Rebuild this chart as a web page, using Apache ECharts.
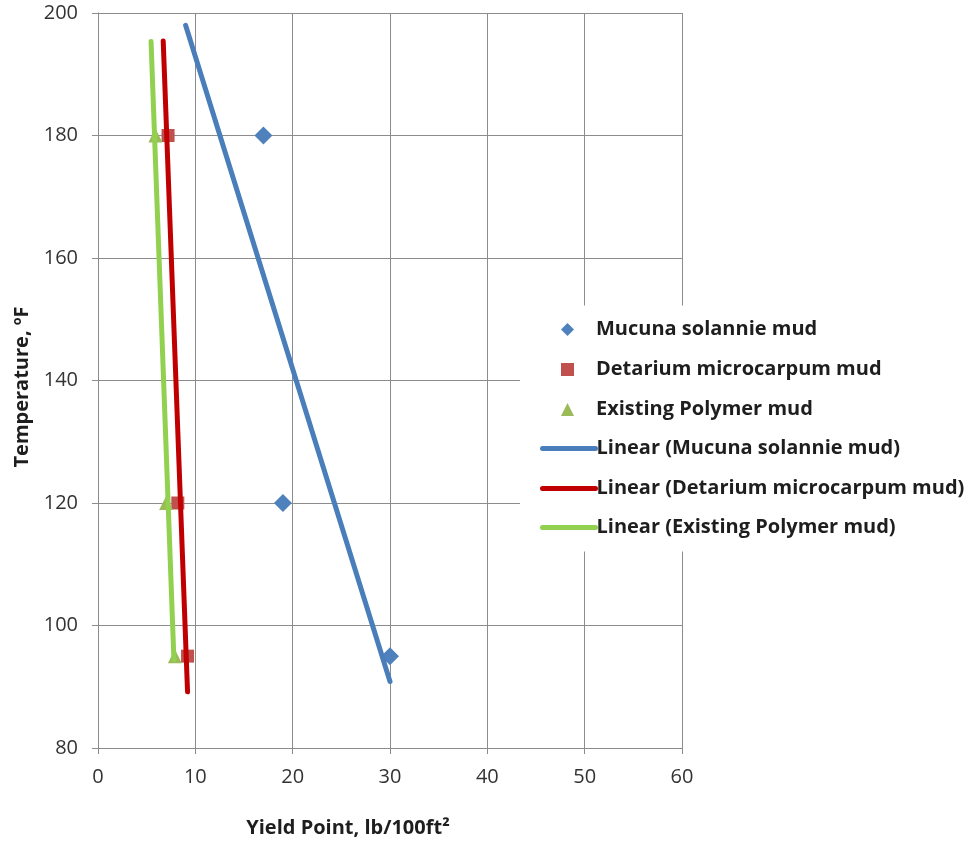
<!DOCTYPE html>
<html>
<head>
<meta charset="utf-8">
<script src="https://cdn.jsdelivr.net/npm/echarts@6/dist/echarts.min.js"></script>
<style>html,body{margin:0;padding:0;background:#fff}#c{width:968px;height:843px}</style>
</head>
<body>
<div id="c"></div>
<script>
// Data
const temperature = [180, 120, 95];
const mucunaYP = [17, 19, 30];
const detariumYP = [7.2, 8.2, 9.2];
const polymerYP = [5.9, 7.0, 7.9];
const seriesNames = ['Mucuna solannie mud', 'Detarium microcarpum mud', 'Existing Polymer mud'];
// x extent of each trendline (Excel forecast range)
const mucunaTrendRange = [9, 30];
const detariumTrendRange = [6.7, 9.2];
const polymerTrendRange = [5.45, 7.8];
const xTicks = [0, 10, 20, 30, 40, 50, 60];
const yTicks = [80, 100, 120, 140, 160, 180, 200];

function pairs(xs, ys) { return xs.map((x, i) => [x, ys[i]]); }
function linearTrend(xs, ys, range) {
  const n = xs.length;
  const mx = xs.reduce((a, b) => a + b, 0) / n;
  const my = ys.reduce((a, b) => a + b, 0) / n;
  let sxx = 0, sxy = 0;
  for (let i = 0; i < n; i++) { sxx += (xs[i] - mx) ** 2; sxy += (xs[i] - mx) * (ys[i] - my); }
  const b = sxy / sxx, a = my - b * mx;
  return range.map(x => [x, a + b * x]);
}

const FONT = '"Open Sans", "Liberation Sans", sans-serif';
const gridColor = '#8c8c8c';
const colors = { mucuna: '#4F81BD', detarium: '#C0504D', polymer: '#9BBB59',
                 mucunaLine: '#4A7EBB', detariumLine: '#C00000', polymerLine: '#92D050' };
const lineNames = seriesNames.map(n => 'Linear (' + n + ')');

// legend rows (one legend per row so each icon size can differ)
const rowCenters = [326, 366, 406, 445, 485, 524];
const legends = [];
const allNames = seriesNames.concat(lineNames);
allNames.forEach((name, i) => {
  const isLine = i >= 3;
  const iconH = 13;
  const pad = 14;
  legends.push({
    orient: 'vertical', left: 520, top: rowCenters[i] - pad - iconH / 2,
    padding: [pad, 20, pad, isLine ? 20 : 41],
    backgroundColor: '#fff',
    selectedMode: false,
    itemWidth: isLine ? 53 : 13, itemHeight: iconH, itemGap: 0,
    lineStyle: { width: 5, cap: 'round' },
    textStyle: { fontFamily: FONT, fontSize: 20, fontWeight: 'bold', color: '#1e1e1e',
                 padding: [0, 0, 0, isLine ? -4 : 17] },
    data: [isLine ? { name: name, itemStyle: { color: 'rgba(0,0,0,0)', borderWidth: 0 } } : { name: name }]
  });
});

const chart = echarts.init(document.getElementById('c'), null, { renderer: 'canvas' });
chart.setOption({
  animation: false,
  backgroundColor: '#fff',
  textStyle: { fontFamily: FONT },
  grid: { left: 98, right: 286, top: 13, bottom: 95, containLabel: false },
  xAxis: {
    type: 'value', min: xTicks[0], max: xTicks[xTicks.length - 1], interval: 10,
    name: 'Yield Point, lb/100ft²', nameLocation: 'middle', nameGap: 70,
    nameTextStyle: { fontFamily: FONT, fontSize: 20, fontWeight: 'bold', color: '#1e1e1e', padding: [0, 84, 0, 0] },
    axisLine: { show: true, lineStyle: { color: gridColor, width: 1 } },
    axisTick: { show: true, length: 6, lineStyle: { color: gridColor } },
    axisLabel: { fontFamily: FONT, fontSize: 20, color: '#333', margin: 19 },
    splitLine: { show: true, lineStyle: { color: gridColor, width: 1 } }
  },
  yAxis: {
    type: 'value', min: yTicks[0], max: yTicks[yTicks.length - 1], interval: 20,
    name: 'Temperature, ºF', nameLocation: 'middle', nameGap: 66, nameRotate: 90,
    nameTextStyle: { fontFamily: FONT, fontSize: 20, fontWeight: 'bold', color: '#1e1e1e', padding: [0, 13, 0, 0] },
    axisLine: { show: true, lineStyle: { color: gridColor, width: 1 } },
    axisTick: { show: true, length: 6, lineStyle: { color: gridColor } },
    axisLabel: { fontFamily: FONT, fontSize: 20, color: '#333', margin: 20 },
    splitLine: { show: true, lineStyle: { color: gridColor, width: 1 } }
  },
  legend: legends,
  series: [
    { name: seriesNames[0], type: 'scatter', symbol: 'diamond', symbolSize: 18,
      itemStyle: { color: colors.mucuna, opacity: 1 }, data: pairs(mucunaYP, temperature) },
    { name: seriesNames[1], type: 'scatter', symbol: 'rect', symbolSize: 13,
      itemStyle: { color: colors.detarium, opacity: 1 }, data: pairs(detariumYP, temperature) },
    { name: seriesNames[2], type: 'scatter', symbol: 'triangle', symbolSize: 14,
      itemStyle: { color: colors.polymer, opacity: 1 }, data: pairs(polymerYP, temperature) },
    { name: lineNames[0], type: 'line', symbol: 'none', showSymbol: false,
      lineStyle: { color: colors.mucunaLine, width: 5, cap: 'round' }, itemStyle: { color: colors.mucunaLine },
      data: linearTrend(mucunaYP, temperature, mucunaTrendRange) },
    { name: lineNames[1], type: 'line', symbol: 'none', showSymbol: false,
      lineStyle: { color: colors.detariumLine, width: 5, cap: 'round' }, itemStyle: { color: colors.detariumLine },
      data: linearTrend(detariumYP, temperature, detariumTrendRange) },
    { name: lineNames[2], type: 'line', symbol: 'none', showSymbol: false,
      lineStyle: { color: colors.polymerLine, width: 5, cap: 'round' }, itemStyle: { color: colors.polymerLine },
      data: linearTrend(polymerYP, temperature, polymerTrendRange) }
  ]
});
</script>
</body>
</html>
